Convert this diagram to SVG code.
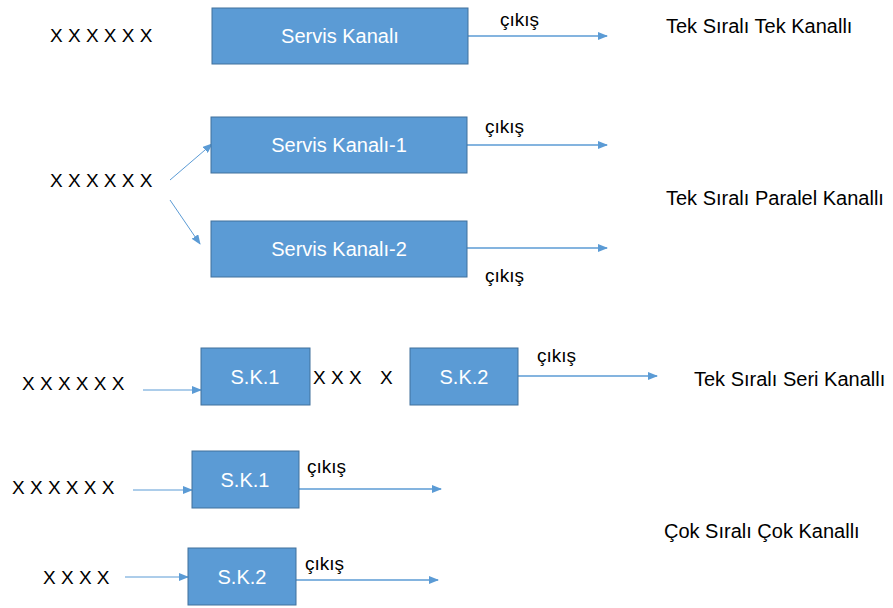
<svg xmlns="http://www.w3.org/2000/svg" width="893" height="608" viewBox="0 0 893 608">
<style>
text{font-family:"Liberation Sans",Arial,sans-serif;font-size:19px;fill:#000}
.lb{font-size:20px}
.bt{fill:#fff;text-anchor:middle;font-size:20px}
.box{fill:#5B9BD5;stroke:#41719C;stroke-width:1}
.ln{stroke:#5B9BD5;stroke-width:1.5;fill:none;marker-end:url(#ah)}
.lt{stroke:#5B9BD5;stroke-width:1;fill:none;marker-end:url(#ah)}
</style>
<defs>
<marker id="ah" markerUnits="userSpaceOnUse" markerWidth="10" markerHeight="8" refX="9" refY="4" orient="auto">
<path d="M0,0 L10,4 L0,8 Z" fill="#5B9BD5"/>
</marker>
</defs>
<rect width="893" height="608" fill="#fff"/>
<g id="connectors">
<line class="ln" x1="468" y1="36" x2="607" y2="36"/>
<line class="lt" x1="170" y1="180" x2="212" y2="144"/>
<line class="lt" x1="170" y1="200" x2="200" y2="244"/>
<line class="ln" x1="467" y1="145" x2="607" y2="145"/>
<line class="ln" x1="467" y1="248" x2="607" y2="248"/>
<line class="lt" x1="143" y1="390" x2="201" y2="390"/>
<line class="ln" x1="518" y1="376" x2="657" y2="376"/>
<line class="lt" x1="133" y1="490" x2="192" y2="490"/>
<line class="ln" x1="299" y1="489" x2="441" y2="489"/>
<line class="lt" x1="125" y1="577" x2="188" y2="577"/>
<line class="ln" x1="296" y1="580" x2="438" y2="580"/>
</g>
<g id="row1">
<text x="50" y="42">X X X X X X</text>
<g id="n1"><rect class="box" x="212" y="8" width="256" height="56"/><text class="bt" x="340" y="43">Servis Kanalı</text></g>
<text x="500" y="26">çıkış</text>
<text class="lb" x="666" y="33">Tek Sıralı Tek Kanallı</text>
</g>
<g id="row2">
<text x="50" y="187">X X X X X X</text>
<g id="n2"><rect class="box" x="211" y="117" width="256" height="56"/><text class="bt" x="339" y="152">Servis Kanalı-1</text></g>
<g id="n3"><rect class="box" x="211" y="221" width="256" height="56"/><text class="bt" x="339" y="256">Servis Kanalı-2</text></g>
<text x="485" y="133">çıkış</text>
<text x="485" y="282">çıkış</text>
<text class="lb" x="666" y="205">Tek Sıralı Paralel Kanallı</text>
</g>
<g id="row3">
<text x="22" y="390">X X X X X X</text>
<g id="n4"><rect class="box" x="201" y="348" width="109" height="57"/><text class="bt" x="255" y="384">S.K.1</text></g>
<text x="313" y="384">X X X</text>
<text x="380" y="384">X</text>
<g id="n5"><rect class="box" x="410" y="348" width="108" height="57"/><text class="bt" x="464" y="384">S.K.2</text></g>
<text x="537" y="362">çıkış</text>
<text class="lb" x="694" y="386">Tek Sıralı Seri Kanallı</text>
</g>
<g id="row4">
<text x="12" y="494">X X X X X X</text>
<g id="n6"><rect class="box" x="192" y="451" width="107" height="57"/><text class="bt" x="245" y="487">S.K.1</text></g>
<text x="307" y="473">çıkış</text>
<text class="lb" x="664" y="538">Çok Sıralı Çok Kanallı</text>
</g>
<g id="row5">
<text x="43" y="584">X X X X</text>
<g id="n7"><rect class="box" x="188" y="548" width="108" height="57"/><text class="bt" x="242" y="584">S.K.2</text></g>
<text x="305" y="570">çıkış</text>
</g>
</svg>
